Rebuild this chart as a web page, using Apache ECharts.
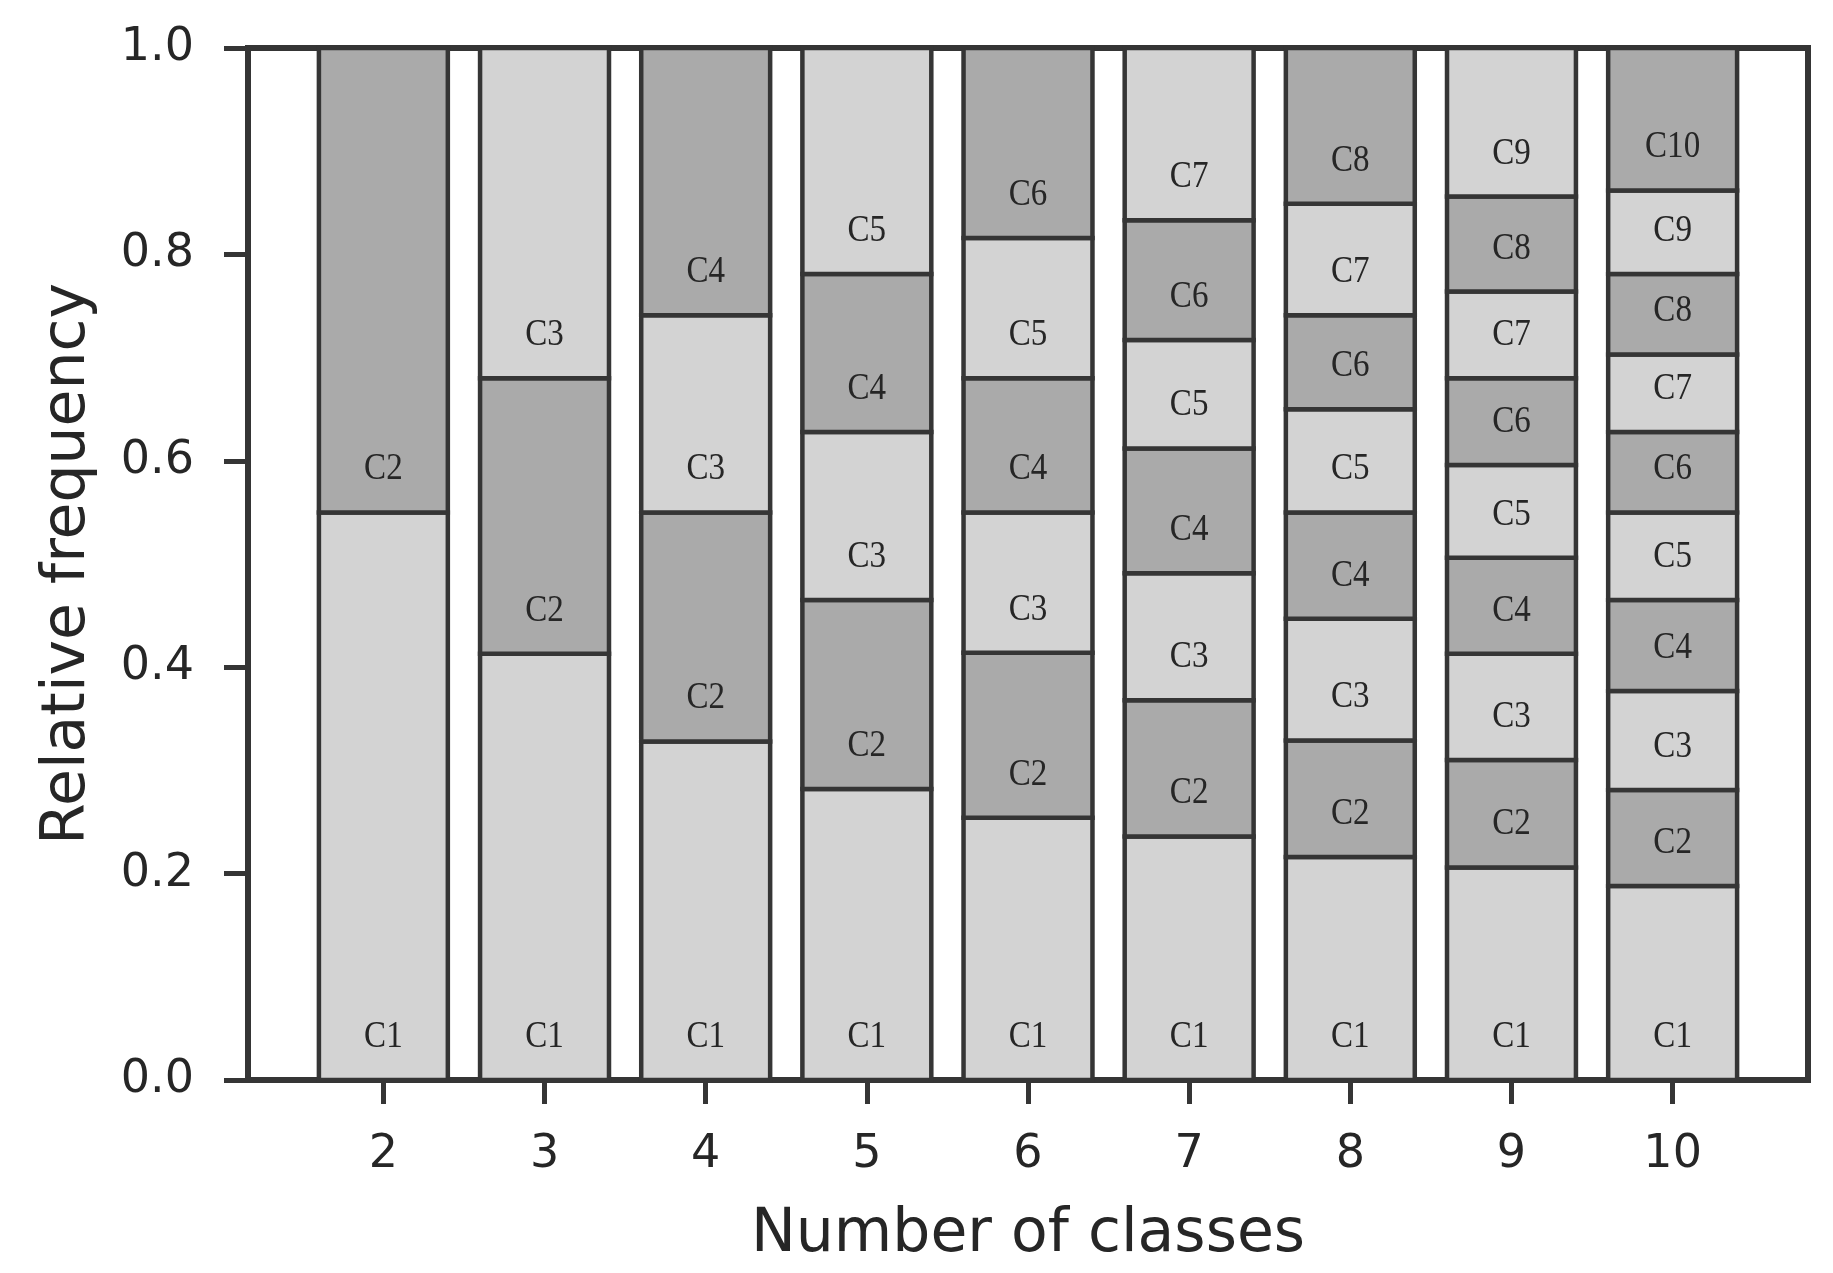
<!DOCTYPE html>
<html><head><meta charset="utf-8">
<script src="https://cdn.jsdelivr.net/npm/echarts@6/dist/echarts.min.js"></script>
<style>html,body{margin:0;padding:0;background:#fff}#c{width:1833px;height:1273px}</style>
</head><body><div id="c"></div>
<script>
// Number of classes (x positions of the stacked bars)
const classCounts = [2, 3, 4, 5, 6, 7, 8, 9, 10];
// Relative frequency of each class C1..Cn, per number of classes
const freq2  = [0.550, 0.450];
const freq3  = [0.413, 0.267, 0.320];
const freq4  = [0.328, 0.222, 0.191, 0.259];
const freq5  = [0.282, 0.183, 0.163, 0.153, 0.219];
const freq6  = [0.254, 0.160, 0.136, 0.130, 0.136, 0.184];
const freq7  = [0.236, 0.132, 0.123, 0.121, 0.105, 0.116, 0.167];
const freq8  = [0.216, 0.113, 0.118, 0.103, 0.100, 0.091, 0.108, 0.151];
const freq9  = [0.206, 0.104, 0.103, 0.093, 0.090, 0.084, 0.084, 0.092, 0.144];
const freq10 = [0.188, 0.093, 0.096, 0.088, 0.085, 0.078, 0.075, 0.078, 0.081, 0.138];
const allFreqs = [freq2, freq3, freq4, freq5, freq6, freq7, freq8, freq9, freq10];
const xTicks = [2, 3, 4, 5, 6, 7, 8, 9, 10];
const yTicks = [0, 0.2, 0.4, 0.6, 0.8, 1.0];

const BAR_W = 0.8;
const LIGHT = '#d3d3d3', DARK = '#aaaaaa', EDGE = '#353535', TXT = '#262626';

// segments: [x, start, end, classIndex]
const segments = [];
classCounts.forEach((n, i) => {
  let cum = 0;
  allFreqs[i].forEach((v, k) => {
    segments.push([n, cum, cum + v, k + 1]);
    cum += v;
  });
});

const chart = echarts.init(document.getElementById('c'), null, {renderer: 'canvas'});
chart.setOption({
  animation: false,
  backgroundColor: '#fff',
  grid: {left: 248, right: 25, top: 48, bottom: 193, show: true,
         borderColor: EDGE, borderWidth: 6, backgroundColor: 'transparent'},
  xAxis: {
    type: 'value', min: 1.16, max: 10.84,
    name: 'Number of classes', nameLocation: 'middle', nameGap: 125,
    nameTextStyle: {fontFamily: 'DejaVu Sans', fontSize: 60, color: TXT},
    axisLine: {show: false},
    splitLine: {show: false},
    axisTick: {show: true, customValues: xTicks, length: 24, lineStyle: {color: EDGE, width: 5}},
    axisLabel: {customValues: xTicks, margin: 52, fontFamily: 'DejaVu Sans', fontSize: 46, color: TXT}
  },
  yAxis: {
    type: 'value', min: 0, max: 1, interval: 0.2,
    name: 'Relative frequency', nameLocation: 'middle', nameGap: 150, nameRotate: 90,
    nameTextStyle: {fontFamily: 'DejaVu Sans', fontSize: 60, color: TXT},
    axisLine: {show: false},
    splitLine: {show: false},
    axisTick: {show: true, length: 24, lineStyle: {color: EDGE, width: 5}},
    axisLabel: {margin: 54, fontFamily: 'DejaVu Sans', fontSize: 46, color: TXT,
                formatter: v => v.toFixed(1)}
  },
  series: [{
    type: 'custom',
    encode: {x: 0, y: [1, 2]},
    data: segments,
    renderItem: function (params, api) {
      const x = api.value(0), y0 = api.value(1), y1 = api.value(2), k = api.value(3);
      const pb = api.coord([x, y0]);
      const pt = api.coord([x, y1]);
      const w = api.size([BAR_W, 0])[0];
      return {
        type: 'group',
        children: [{
          type: 'rect',
          shape: {x: pb[0] - w / 2, y: pt[1], width: w, height: pb[1] - pt[1]},
          style: {fill: k % 2 === 1 ? LIGHT : DARK, stroke: EDGE, lineWidth: 4.5}
        }, {
          type: 'text',
          x: pb[0], y: pb[1] - 43, scaleX: 0.87,
          style: {text: 'C' + k, x: 0, y: 0, align: 'center', verticalAlign: 'middle',
                  fontFamily: 'Liberation Serif', fontSize: 38, fill: TXT}
        }]
      };
    }
  }]
});
</script>
</body></html>
